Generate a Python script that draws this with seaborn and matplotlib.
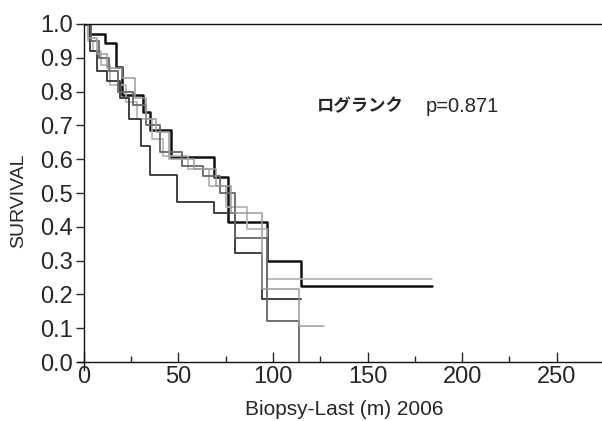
import matplotlib
matplotlib.use("Agg")
import matplotlib.pyplot as plt
import seaborn as sns
import pandas as pd
from matplotlib.ticker import MultipleLocator

# Kaplan-Meier step curves (time in months, survival)
grp_names = ["A", "B", "C", "D", "E"]
times_a = [0, 3, 11, 17, 20, 31, 35, 46, 69, 76, 97, 115]
surv_a = [1.0, 0.97, 0.944, 0.873, 0.79, 0.74, 0.686, 0.607, 0.547, 0.414, 0.30, 0.225]
times_b = [0, 2, 5, 9, 14, 22, 28, 36, 42, 55, 66, 75, 86, 97]
surv_b = [1.0, 0.95, 0.92, 0.88, 0.82, 0.77, 0.72, 0.66, 0.61, 0.57, 0.52, 0.46, 0.393, 0.245]
times_c = [0, 3, 7, 12, 19, 24, 30, 35, 49, 69, 80, 94]
surv_c = [1.0, 0.92, 0.86, 0.83, 0.78, 0.72, 0.64, 0.553, 0.473, 0.44, 0.322, 0.186]
times_d = [0, 4, 8, 13, 18, 26, 33, 40, 52, 63, 72, 80, 97, 114]
surv_d = [1.0, 0.95, 0.90, 0.86, 0.80, 0.76, 0.70, 0.62, 0.58, 0.55, 0.50, 0.367, 0.121, 0.0]
times_e = [0, 2, 7, 12, 20, 27, 33, 38, 45, 58, 70, 78, 94, 114]
surv_e = [1.0, 0.96, 0.91, 0.87, 0.84, 0.78, 0.72, 0.68, 0.60, 0.57, 0.52, 0.44, 0.215, 0.107]
last_follow = [184, 184, 115, 114, 127]
grp_colors = ["#111111", "#b0b0b0", "#333333", "#666666", "#9a9a9a"]
grp_widths = [1.8, 1.2, 1.3, 1.3, 1.1]

all_times = [times_a, times_b, times_c, times_d, times_e]
all_surv = [surv_a, surv_b, surv_c, surv_d, surv_e]

rows = []
for g, t, s, end in zip(grp_names, all_times, all_surv, last_follow):
    for ti, si in zip(t, s):
        rows.append({"group": g, "time": ti, "surv": si})
    rows.append({"group": g, "time": end, "surv": s[-1]})
df = pd.DataFrame(rows)

sns.set_style("ticks")
plt.rcParams["font.family"] = ["Liberation Sans", "DejaVu Sans"]

fig = plt.figure(figsize=(6.02, 4.21), dpi=100)
ax = fig.add_axes([0.130, 0.120, 0.870, 0.823])

for g, col, lw in zip(grp_names, grp_colors, grp_widths):
    sub = df[df["group"] == g]
    sns.lineplot(data=sub, x="time", y="surv", estimator=None, sort=False,
                 drawstyle="steps-post", color=col, linewidth=lw, ax=ax)

ax.set_xlim(-3, 274)
ax.set_ylim(-0.025, 1.0)
ax.spines["left"].set_position(("data", 0))
ax.spines["bottom"].set_position(("data", 0))
ax.spines["right"].set_visible(False)
ax.spines["top"].set_bounds(0, 274)
for sp in ax.spines.values():
    sp.set_linewidth(1.0)
    sp.set_color("#111111")

ax.xaxis.set_major_locator(MultipleLocator(50))
ax.xaxis.set_minor_locator(MultipleLocator(25))
ax.set_yticks([i / 10 for i in range(11)])
ax.set_yticklabels([f"{i / 10:.1f}" for i in range(11)])
ax.tick_params(axis="x", which="major", direction="in", length=7, width=1, labelsize=17, pad=3)
ax.tick_params(axis="x", which="minor", direction="in", length=4, width=1)
ax.tick_params(axis="y", which="major", direction="out", length=6, width=1, labelsize=17, pad=2)

ax.set_xlabel("Biopsy-Last (m) 2006", fontsize=15, labelpad=0)
ax.set_ylabel("SURVIVAL", fontsize=14, labelpad=0)
ax.xaxis.set_label_coords(0.507, -0.085)
ax.yaxis.set_label_coords(-0.098, 0.49)

# log-rank annotation
ax.text(123, 0.757, "ログランク", fontsize=12.5, fontweight="bold",
        family=["Noto Sans CJK JP", "DejaVu Sans"], va="center", ha="left")
ax.text(180.5, 0.757, "p=0.871", fontsize=14.5, va="center", ha="left")

fig.savefig("out.png", dpi=100)
